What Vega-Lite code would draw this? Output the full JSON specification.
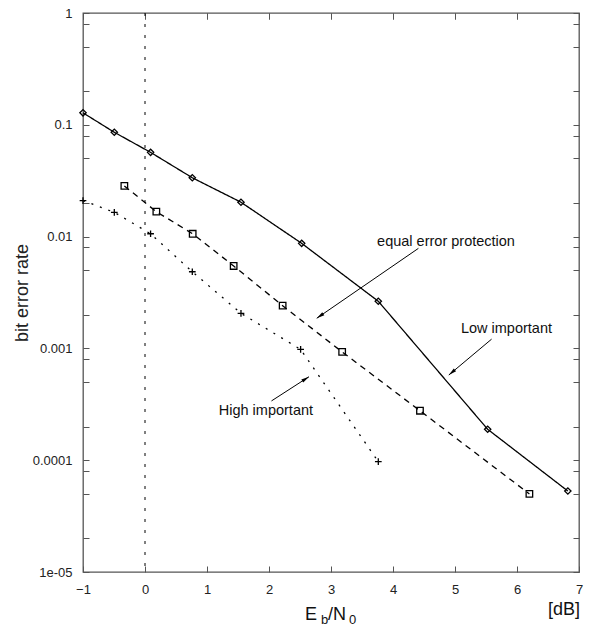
{
  "$schema": "https://vega.github.io/schema/vega-lite/v6.json",
  "width": 496,
  "height": 559,
  "autosize": {"type": "none"},
  "padding": {"left": 83, "top": 13, "right": 10, "bottom": 54},
  "background": "white",
  "config": {
    "font": "Liberation Sans",
    "view": {"stroke": "#555", "strokeWidth": 1.3},
    "axis": {
      "domain": false,
      "grid": false,
      "tickColor": "#555",
      "tickWidth": 1,
      "tickSize": -6,
      "labelFontSize": 13,
      "labelColor": "#222",
      "labelFont": "Liberation Sans",
      "labelOverlap": false,
      "labelFlush": false,
      "titleFont": "Liberation Sans",
      "titleFontWeight": "normal",
      "titleColor": "#222"
    }
  },
  "datasets": {
    "curves": [
      {"series": "Low important", "ebn0": -1.0, "ber": 0.128},
      {"series": "Low important", "ebn0": -0.495, "ber": 0.0857},
      {"series": "Low important", "ebn0": 0.09, "ber": 0.0567},
      {"series": "Low important", "ebn0": 0.763, "ber": 0.0336},
      {"series": "Low important", "ebn0": 1.548, "ber": 0.0203},
      {"series": "Low important", "ebn0": 2.527, "ber": 0.0087},
      {"series": "Low important", "ebn0": 3.763, "ber": 0.00264},
      {"series": "Low important", "ebn0": 5.527, "ber": 0.000189},
      {"series": "Low important", "ebn0": 6.82, "ber": 0.000053},
      {"series": "equal error protection", "ebn0": -0.333, "ber": 0.0284},
      {"series": "equal error protection", "ebn0": 0.183, "ber": 0.0167},
      {"series": "equal error protection", "ebn0": 0.769, "ber": 0.0106},
      {"series": "equal error protection", "ebn0": 1.43, "ber": 0.00546},
      {"series": "equal error protection", "ebn0": 2.22, "ber": 0.00241},
      {"series": "equal error protection", "ebn0": 3.18, "ber": 0.00093},
      {"series": "equal error protection", "ebn0": 4.435, "ber": 0.000277},
      {"series": "equal error protection", "ebn0": 6.2, "ber": 0.0000499},
      {"series": "High important", "ebn0": -1.0, "ber": 0.021},
      {"series": "High important", "ebn0": -0.495, "ber": 0.0165},
      {"series": "High important", "ebn0": 0.09, "ber": 0.0106},
      {"series": "High important", "ebn0": 0.763, "ber": 0.00485},
      {"series": "High important", "ebn0": 1.548, "ber": 0.00206},
      {"series": "High important", "ebn0": 2.51, "ber": 0.00098},
      {"series": "High important", "ebn0": 3.763, "ber": 0.000097}
    ],
    "arrows": [
      {"arrow": "eq", "xs": 4.41, "ys": 0.00785, "xe": 2.77, "ye": 0.00186},
      {"arrow": "low", "xs": 5.59, "ys": 0.00121, "xe": 4.9, "ye": 0.000578},
      {"arrow": "high", "xs": 2.04, "ys": 0.000339, "xe": 2.645, "ye": 0.000558}
    ],
    "notes": [
      {"label": "equal error protection", "x": 4.855, "y": 0.009},
      {"label": "Low important", "x": 5.83, "y": 0.00148},
      {"label": "High important", "x": 1.95, "y": 0.000277}
    ]
  },
  "layer": [
    {
      "data": {"values": [{"x0": 0}]},
      "mark": {"type": "rule", "color": "black", "strokeWidth": 1, "strokeDash": [3, 8]},
      "encoding": {
        "x": {"field": "x0", "type": "quantitative",
          "scale": {"domain": [-1, 7], "nice": false, "zero": false},
          "axis": {"orient": "top", "labels": false, "title": null, "values": [-1, 0, 1, 2, 3, 4, 5, 6, 7]}}
      }
    },
    {
      "data": {"name": "curves"},
      "mark": {"type": "line", "color": "black", "strokeWidth": 1.3},
      "encoding": {
        "x": {"field": "ebn0", "type": "quantitative",
          "scale": {"domain": [-1, 7], "nice": false, "zero": false},
          "axis": {"orient": "bottom", "title": null, "values": [-1, 0, 1, 2, 3, 4, 5, 6, 7], "labelPadding": 17}},
        "y": {"field": "ber", "type": "quantitative",
          "scale": {"type": "log", "domain": [0.00001, 1], "nice": false},
          "axis": {"orient": "left", "title": "bit error rate", "titleFontSize": 18, "titlePadding": 1, "labelPadding": 17,
            "values": [0.00001, 0.00002, 0.00005, 0.00008, 0.0001, 0.0002, 0.0005, 0.0008, 0.001, 0.002, 0.005, 0.008, 0.01, 0.02, 0.05, 0.08, 0.1, 0.2, 0.5, 0.8, 1],
            "labelExpr": "datum.value > 0.9 ? '1' : (datum.value > 0.09 && datum.value < 0.11) ? '0.1' : (datum.value > 0.009 && datum.value < 0.011) ? '0.01' : (datum.value > 0.0009 && datum.value < 0.0011) ? '0.001' : (datum.value > 0.00009 && datum.value < 0.00011) ? '0.0001' : (datum.value < 0.000011) ? '1e-05' : ''"}},
        "detail": {"field": "series", "type": "nominal"},
        "strokeDash": {"field": "series", "type": "nominal",
          "scale": {"domain": ["Low important", "equal error protection", "High important"], "range": [[1, 0], [6, 5], [2, 7]]},
          "legend": null}
      }
    },
    {
      "data": {"name": "curves"},
      "mark": {"type": "point", "filled": false, "color": "black", "strokeWidth": 1.3, "opacity": 1},
      "encoding": {
        "x": {"field": "ebn0", "type": "quantitative", "axis": null},
        "y": {"field": "ber", "type": "quantitative", "axis": null},
        "shape": {"field": "series", "type": "nominal",
          "scale": {"domain": ["Low important", "equal error protection", "High important"], "range": ["diamond", "square", "M-1,0L1,0M0,-1L0,1"]},
          "legend": null},
        "size": {"field": "series", "type": "nominal",
          "scale": {"domain": ["Low important", "equal error protection", "High important"], "range": [40, 45, 40]},
          "legend": null}
      }
    },
    {
      "data": {"name": "arrows"},
      "mark": {"type": "rule", "color": "black", "strokeWidth": 1},
      "encoding": {
        "x": {"field": "xs", "type": "quantitative", "axis": null},
        "y": {"field": "ys", "type": "quantitative", "axis": null},
        "x2": {"field": "xe"},
        "y2": {"field": "ye"}
      }
    },
    {
      "data": {"name": "arrows"},
      "transform": [{"filter": "datum.arrow === 'eq'"}],
      "mark": {"type": "point", "shape": "M0,0L0.45,2L-0.45,2Z", "filled": true, "color": "black", "size": 64, "angle": 235, "opacity": 1},
      "encoding": {
        "x": {"field": "xe", "type": "quantitative", "axis": null},
        "y": {"field": "ye", "type": "quantitative", "axis": null}
      }
    },
    {
      "data": {"name": "arrows"},
      "transform": [{"filter": "datum.arrow === 'low'"}],
      "mark": {"type": "point", "shape": "M0,0L0.45,2L-0.45,2Z", "filled": true, "color": "black", "size": 64, "angle": 230, "opacity": 1},
      "encoding": {
        "x": {"field": "xe", "type": "quantitative", "axis": null},
        "y": {"field": "ye", "type": "quantitative", "axis": null}
      }
    },
    {
      "data": {"name": "arrows"},
      "transform": [{"filter": "datum.arrow === 'high'"}],
      "mark": {"type": "point", "shape": "M0,0L0.45,2L-0.45,2Z", "filled": true, "color": "black", "size": 64, "angle": 57, "opacity": 1},
      "encoding": {
        "x": {"field": "xe", "type": "quantitative", "axis": null},
        "y": {"field": "ye", "type": "quantitative", "axis": null}
      }
    },
    {
      "data": {"name": "notes"},
      "mark": {"type": "text", "fontSize": 14.5, "color": "#111", "align": "center", "baseline": "middle"},
      "encoding": {
        "x": {"field": "x", "type": "quantitative",
          "axis": {"orient": "top", "labels": false, "title": null, "values": [-1, 0, 1, 2, 3, 4, 5, 6, 7]}},
        "y": {"field": "y", "type": "quantitative",
          "axis": {"orient": "right", "labels": false, "title": null,
            "values": [0.00001, 0.00002, 0.00005, 0.00008, 0.0001, 0.0002, 0.0005, 0.0008, 0.001, 0.002, 0.005, 0.008, 0.01, 0.02, 0.05, 0.08, 0.1, 0.2, 0.5, 0.8, 1]}},
        "text": {"field": "label"}
      }
    },
    {
      "data": {"values": [{"t": "E"}]},
      "mark": {"type": "text", "fontSize": 18, "color": "#111", "align": "left", "baseline": "alphabetic", "dx": -26, "dy": 48},
      "encoding": {
        "x": {"datum": 3, "type": "quantitative", "axis": null},
        "y": {"datum": 0.00001, "type": "quantitative", "axis": null},
        "text": {"field": "t"}
      }
    },
    {
      "data": {"values": [{"t": "b"}]},
      "mark": {"type": "text", "fontSize": 13, "color": "#111", "align": "left", "baseline": "alphabetic", "dx": -10, "dy": 52},
      "encoding": {
        "x": {"datum": 3, "type": "quantitative", "axis": null},
        "y": {"datum": 0.00001, "type": "quantitative", "axis": null},
        "text": {"field": "t"}
      }
    },
    {
      "data": {"values": [{"t": "/N"}]},
      "mark": {"type": "text", "fontSize": 18, "color": "#111", "align": "left", "baseline": "alphabetic", "dx": -3, "dy": 48},
      "encoding": {
        "x": {"datum": 3, "type": "quantitative", "axis": null},
        "y": {"datum": 0.00001, "type": "quantitative", "axis": null},
        "text": {"field": "t"}
      }
    },
    {
      "data": {"values": [{"t": "0"}]},
      "mark": {"type": "text", "fontSize": 13, "color": "#111", "align": "left", "baseline": "alphabetic", "dx": 18, "dy": 52},
      "encoding": {
        "x": {"datum": 3, "type": "quantitative", "axis": null},
        "y": {"datum": 0.00001, "type": "quantitative", "axis": null},
        "text": {"field": "t"}
      }
    },
    {
      "data": {"values": [{"t": "[dB]"}]},
      "mark": {"type": "text", "fontSize": 18, "color": "#111", "align": "right", "baseline": "alphabetic", "dx": 1, "dy": 43},
      "encoding": {
        "x": {"datum": 7, "type": "quantitative", "axis": null},
        "y": {"datum": 0.00001, "type": "quantitative", "axis": null},
        "text": {"field": "t"}
      }
    }
  ]
}
